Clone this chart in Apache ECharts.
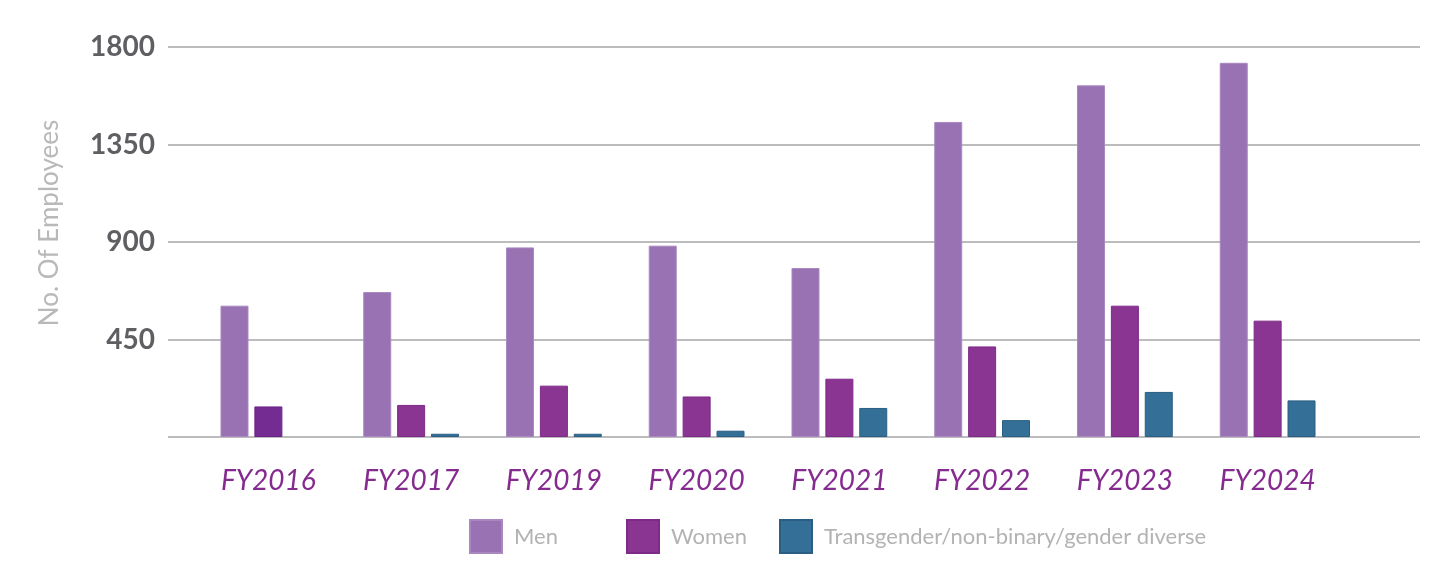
<!DOCTYPE html>
<html>
<head>
<meta charset="utf-8">
<script src="https://cdn.jsdelivr.net/npm/echarts@6/dist/echarts.min.js"></script>
<style>html,body{margin:0;padding:0;background:#fff}#c{width:1456px;height:586px}</style>
</head>
<body>
<div id="c"></div>
<script>
const categories = ['FY2016','FY2017','FY2019','FY2020','FY2021','FY2022','FY2023','FY2024'];
const men = [606, 669, 875, 883, 780, 1454, 1623, 1727];
const women = [141, 148, 237, 187, 269, 418, 606, 537];
const trans = [0, 15, 15, 29, 134, 78, 208, 169];
const yTicks = [0, 450, 900, 1350, 1800];
const seriesNames = ['Men', 'Women', 'Transgender/non-binary/gender diverse'];

const colMen = '#9872b2', colWomen = '#8a3592', colTrans = '#336f96';
const chart = echarts.init(document.getElementById('c'));
const womenData = women.map((v, i) => i === 0 ? {value: v, itemStyle: {color: '#752c92', borderColor: '#6a2486'}} : v);
const transData = trans.map(v => v === 0 ? {value: v, itemStyle: {borderWidth: 0}} : v);

function legend(name, left) {
  return {
    data: [name], left: left, top: 519, itemWidth: 32, itemHeight: 33, padding: 0,
    icon: 'rect',
    textStyle: {color: '#b3b3b5', fontSize: 22, fontFamily: 'Lato', padding: [0, 0, 0, 7]},
    selectedMode: false
  };
}

chart.setOption({
  animation: false,
  legend: [legend(seriesNames[0], 469), legend(seriesNames[1], 626), legend(seriesNames[2], 779)],
  grid: [
    {left: 168, right: 36, top: 47, bottom: 149},
    {left: 197, right: 117, top: 47, bottom: 149}
  ],
  xAxis: [
    {gridIndex: 0, type: 'category', data: categories, show: false},
    {gridIndex: 1, type: 'category', data: categories,
     axisLine: {show: false}, axisTick: {show: false},
     axisLabel: {color: '#852a8f', fontSize: 28, fontStyle: 'italic', fontFamily: 'Lato', margin: 30}}
  ],
  yAxis: [
    {gridIndex: 0, type: 'value', min: yTicks[0], max: yTicks[yTicks.length - 1], interval: yTicks[1] - yTicks[0],
     axisLine: {show: false}, axisTick: {show: false},
     axisLabel: {color: '#5f5f63', fontSize: 28, fontWeight: 'bold', fontFamily: 'Lato', margin: 13,
                 formatter: v => v === 0 ? '' : String(v)},
     splitLine: {lineStyle: {color: '#bcbcbf', width: 2}},
     name: 'No. Of Employees', nameLocation: 'middle', nameGap: 105, nameRotate: 90,
     nameTextStyle: {color: '#b9b9bb', fontSize: 26, fontFamily: 'Lato', padding: [0, 0, 0, 38]}},
    {gridIndex: 1, type: 'value', min: yTicks[0], max: yTicks[yTicks.length - 1], show: false}
  ],
  series: [
    {name: seriesNames[0], type: 'bar', xAxisIndex: 1, yAxisIndex: 1, data: men, barWidth: 28, barGap: '21%',
     itemStyle: {color: colMen, borderColor: '#a988c0', borderWidth: 1}},
    {name: seriesNames[1], type: 'bar', xAxisIndex: 1, yAxisIndex: 1, data: womenData, barWidth: 28, barGap: '21%',
     itemStyle: {color: colWomen, borderColor: '#7e2a88', borderWidth: 1}},
    {name: seriesNames[2], type: 'bar', xAxisIndex: 1, yAxisIndex: 1, data: transData, barWidth: 28, barGap: '21%',
     itemStyle: {color: colTrans, borderColor: '#2a5f83', borderWidth: 1}}
  ]
});
</script>
</body>
</html>
